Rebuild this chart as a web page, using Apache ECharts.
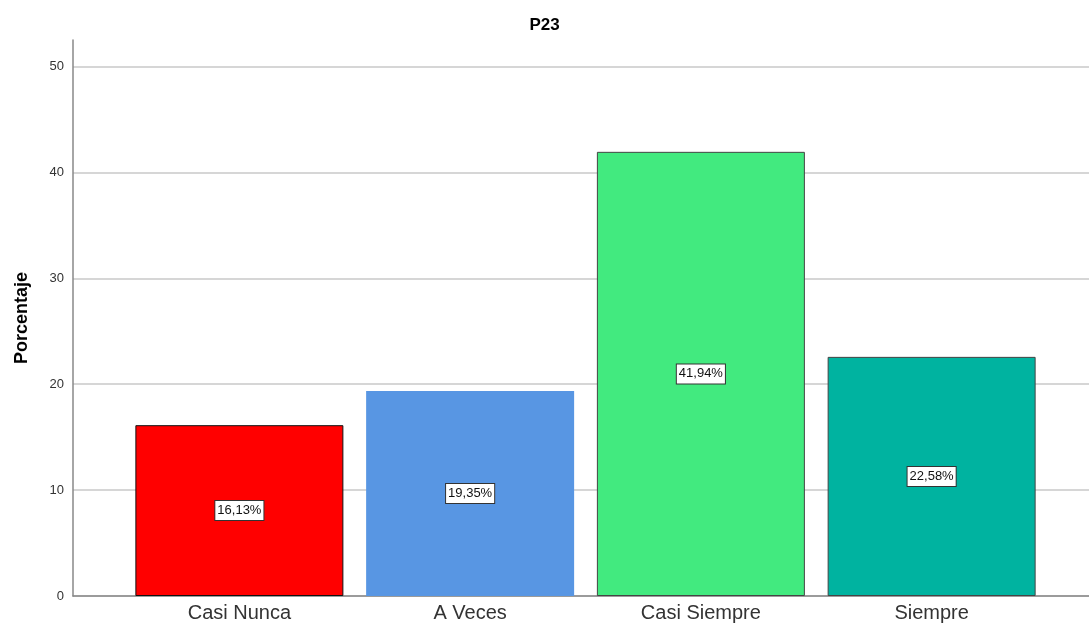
<!DOCTYPE html>
<html>
<head>
<meta charset="utf-8">
<script src="https://cdn.jsdelivr.net/npm/echarts@6/dist/echarts.min.js"></script>
<style>
  html, body { margin: 0; padding: 0; background: #fff; }
  #chart { width: 1089px; height: 627px; }
</style>
</head>
<body>
<div id="chart"></div>
<script>
const categories = ['Casi Nunca', 'A Veces', 'Casi Siempre', 'Siempre'];
const percentValues = [16.13, 19.35, 41.94, 22.58];
const barColors = ['#ff0000', '#5896e3', '#42ea7f', '#00b3a0'];
const barBorders = ['#111111', 'transparent', '#444444', '#444444'];

const chart = echarts.init(document.getElementById('chart'));
const font = 'Liberation Sans, Arial, sans-serif';

const barData = percentValues.map((v, i) => ({
  value: v,
  itemStyle: {
    color: barColors[i],
    borderColor: barBorders[i],
    borderWidth: barBorders[i] === 'transparent' ? 0 : 1
  }
}));

const option = {
  animation: false,
  backgroundColor: '#fff',
  title: {
    text: 'P23',
    left: 'center',
    top: 12,
    textStyle: { fontFamily: font, fontSize: 17, fontWeight: 'bold', color: '#000' }
  },
  grid: [
    { left: 73, right: 0, top: 40, bottom: 31 },
    { left: 124, right: 42, top: 40, bottom: 31 }
  ],
  xAxis: [
    {
      gridIndex: 0,
      type: 'value',
      min: 0,
      max: 1,
      axisLine: { show: true, onZero: false, lineStyle: { color: '#888', width: 1.5 } },
      axisTick: { show: false },
      axisLabel: { show: false },
      splitLine: { show: false }
    },
    {
      gridIndex: 1,
      type: 'category',
      data: categories,
      axisLine: { show: false },
      axisTick: { show: false },
      axisLabel: { fontFamily: font, fontSize: 20, color: '#333', margin: 7 }
    }
  ],
  yAxis: [
    {
      gridIndex: 0,
      type: 'value',
      min: 0,
      max: 52.5,
      interval: 10,
      name: 'Porcentaje',
      nameLocation: 'middle',
      nameGap: 42,
      nameTextStyle: { fontFamily: font, fontSize: 18, fontWeight: 'bold', color: '#000' },
      axisLine: { show: true, lineStyle: { color: '#888', width: 1.5 } },
      axisTick: { show: false },
      axisLabel: { fontFamily: font, fontSize: 13, color: '#333', margin: 9, showMaxLabel: false },
      splitLine: { show: true, showMaxLine: false, lineStyle: { color: '#d6d6d6', width: 2 } }
    },
    {
      gridIndex: 1,
      type: 'value',
      min: 0,
      max: 52.5,
      show: false
    }
  ],
  series: [
    {
      type: 'bar',
      xAxisIndex: 1,
      yAxisIndex: 1,
      barWidth: 208,
      data: barData,
      label: {
        show: true,
        position: 'inside',
        formatter: p => p.value.toFixed(2).replace('.', ',') + '%',
        fontFamily: font,
        fontSize: 13,
        color: '#111',
        backgroundColor: '#fff',
        borderColor: '#333',
        borderWidth: 1,
        padding: [3, 2, 3, 2]
      }
    }
  ]
};

chart.setOption(option);
</script>
</body>
</html>
